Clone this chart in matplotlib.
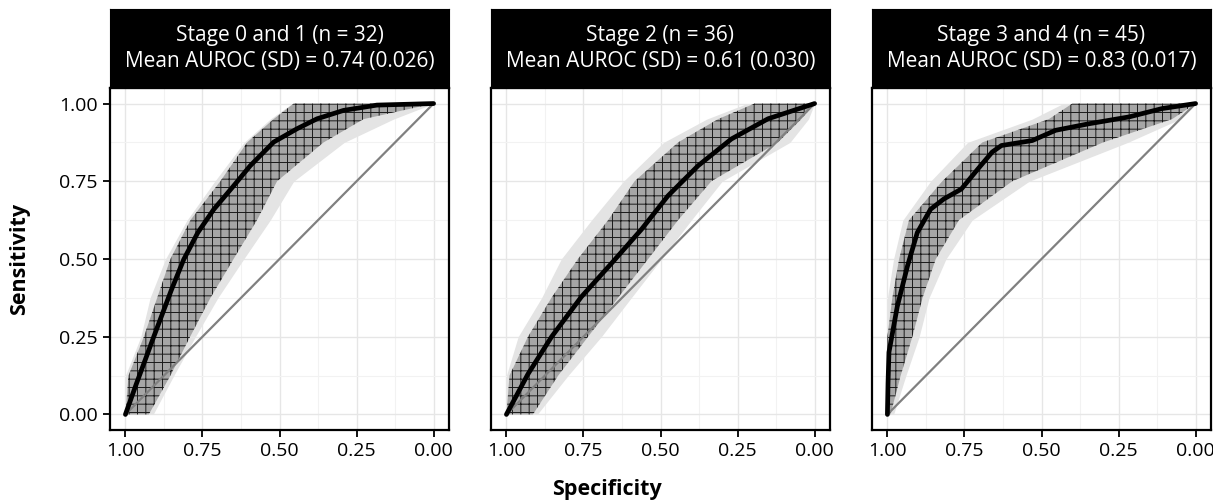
import matplotlib.pyplot as plt
import matplotlib.ticker as mticker

plt.rcParams["font.family"] = ["Open Sans", "DejaVu Sans"]
plt.rcParams["hatch.linewidth"] = 0.7

titles = [
    "Stage 0 and 1 (n = 32)\nMean AUROC (SD) = 0.74 (0.026)",
    "Stage 2 (n = 36)\nMean AUROC (SD) = 0.61 (0.030)",
    "Stage 3 and 4 (n = 45)\nMean AUROC (SD) = 0.83 (0.017)",
]

# mean ROC curves (specificity, sensitivity)
mean_spec = [
    [1.00, 0.965, 0.908, 0.851, 0.811, 0.765, 0.713, 0.649, 0.595, 0.519, 0.443, 0.378, 0.292, 0.184, 0.00],
    [1.00, 0.93, 0.854, 0.757, 0.659, 0.562, 0.476, 0.378, 0.27, 0.151, 0.00],
    [1.00, 0.998, 0.995, 0.968, 0.935, 0.903, 0.86, 0.817, 0.76, 0.706, 0.66, 0.63,
     0.530, 0.454, 0.346, 0.216, 0.108, 0.00],
]
mean_sens = [
    [0.00, 0.097, 0.25, 0.40, 0.498, 0.585, 0.66, 0.735, 0.80, 0.876, 0.919, 0.951, 0.978, 0.995, 1.00],
    [0.00, 0.13, 0.249, 0.378, 0.486, 0.595, 0.703, 0.80, 0.886, 0.951, 1.00],
    [0.00, 0.10, 0.20, 0.347, 0.477, 0.585, 0.66, 0.693, 0.725, 0.79, 0.844, 0.865,
     0.881, 0.914, 0.935, 0.957, 0.984, 1.00],
]

# bootstrap band: sensitivity levels and specificity edges (dense core / faint outer)
band_sens = [0.0, 0.125, 0.25, 0.375, 0.5, 0.625, 0.75, 0.875, 0.95, 1.0]
core_left = [
    [1.00, 0.99, 0.94, 0.897, 0.854, 0.789, 0.692, 0.605, 0.519, 0.454],
    [1.00, 0.99, 0.93, 0.854, 0.768, 0.67, 0.584, 0.443, 0.313, 0.195],
    [1.00, 1.00, 1.00, 0.984, 0.962, 0.93, 0.822, 0.692, 0.476, 0.40],
]
core_right = [
    [0.924, 0.854, 0.79, 0.724, 0.649, 0.573, 0.508, 0.357, 0.227, 0.00],
    [0.914, 0.832, 0.735, 0.638, 0.54, 0.443, 0.335, 0.119, 0.043, 0.00],
    [0.99, 0.957, 0.919, 0.886, 0.843, 0.768, 0.595, 0.30, 0.076, 0.00],
]
outer_left = [
    [1.00, 1.00, 0.95, 0.92, 0.87, 0.80, 0.71, 0.615, 0.53, 0.46],
    [1.00, 1.00, 0.962, 0.886, 0.822, 0.724, 0.62, 0.49, 0.35, 0.22],
    [1.00, 1.00, 1.00, 1.00, 0.98, 0.95, 0.86, 0.74, 0.53, 0.43],
]
outer_right = [
    [0.91, 0.843, 0.773, 0.70, 0.616, 0.53, 0.454, 0.29, 0.13, 0.00],
    [0.90, 0.80, 0.692, 0.595, 0.497, 0.40, 0.30, 0.08, 0.02, 0.00],
    [0.98, 0.94, 0.897, 0.865, 0.81, 0.725, 0.54, 0.22, 0.05, 0.00],
]

ticks = [1.00, 0.75, 0.50, 0.25, 0.00]
tick_labels = ["1.00", "0.75", "0.50", "0.25", "0.00"]

fig = plt.figure(figsize=(12.13, 5.04), dpi=100)

W, H = 1213, 504
lefts = [110, 491, 872]
pw = 339
top, bottom = 88, 430
strip_top = 9

for i in range(3):
    ax = fig.add_axes([lefts[i] / W, 1 - bottom / H, pw / W, (bottom - top) / H])
    ax.set_xlim(1.05, -0.05)
    ax.set_ylim(-0.05, 1.05)

    ax.xaxis.set_major_locator(mticker.FixedLocator(ticks))
    ax.xaxis.set_minor_locator(mticker.FixedLocator([0.875, 0.625, 0.375, 0.125]))
    ax.yaxis.set_major_locator(mticker.FixedLocator(ticks))
    ax.yaxis.set_minor_locator(mticker.FixedLocator([0.875, 0.625, 0.375, 0.125]))
    ax.grid(True, which="major", color="#e6e6e6", lw=1.0)
    ax.grid(True, which="minor", color="#f2f2f2", lw=0.8)
    ax.set_axisbelow(True)
    ax.tick_params(which="minor", length=0)
    ax.tick_params(which="major", length=5, width=1.3, color="black",
                   labelsize=14, pad=4)
    ax.set_xticklabels(tick_labels)
    if i == 0:
        ax.set_yticklabels(tick_labels)
    else:
        ax.tick_params(axis="y", which="both", left=False, labelleft=False)
    for s in ax.spines.values():
        s.set_linewidth(1.6)
        s.set_color("black")

    # bootstrap ROC band
    ax.fill_betweenx(band_sens, outer_left[i], outer_right[i], color="#e4e4e4",
                     lw=0, zorder=1)
    ax.fill_betweenx(band_sens, core_left[i], core_right[i], facecolor="#a6a6a6",
                     edgecolor="#1a1a1a", hatch="++", lw=0, zorder=2)

    ax.plot([1, 0], [0, 1], color="#808080", lw=1.6, zorder=3)
    ax.plot(mean_spec[i], mean_sens[i], color="black", lw=3.4, zorder=4,
            solid_joinstyle="round", solid_capstyle="round")

    sax = fig.add_axes([lefts[i] / W, 1 - top / H, pw / W, (top - strip_top) / H])
    sax.set_facecolor("black")
    sax.set_xticks([])
    sax.set_yticks([])
    for s in sax.spines.values():
        s.set_color("black")
    sax.text(0.5, 0.5, titles[i], color="white", ha="center", va="center",
             fontsize=15, linespacing=1.25, transform=sax.transAxes)

fig.text(0.5, 1 - 490 / H, "Specificity", ha="center", va="center",
         fontsize=15.5, fontweight="bold")
fig.text(20 / W, 1 - 259 / H, "Sensitivity", ha="center", va="center",
         fontsize=15.5, fontweight="bold", rotation=90)

fig.savefig("out.png", dpi=100)
